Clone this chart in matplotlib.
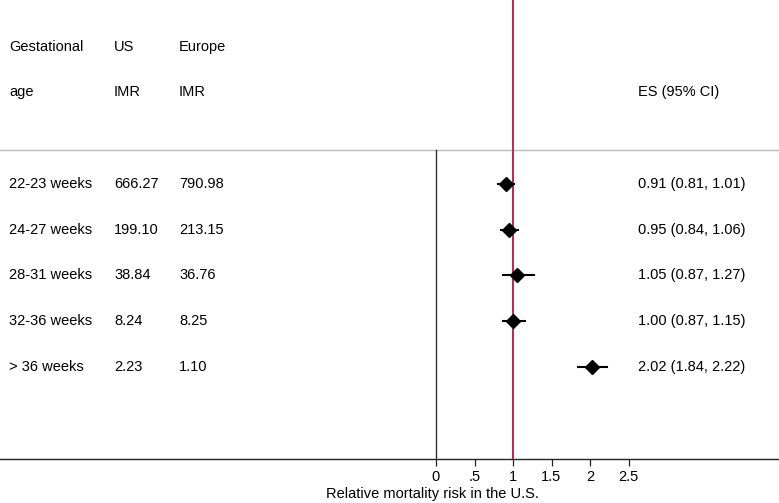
import matplotlib
matplotlib.use("Agg")
import matplotlib.pyplot as plt

groups = ["22-23 weeks", "24-27 weeks", "28-31 weeks", "32-36 weeks", "> 36 weeks"]
us_imr = ["666.27", "199.10", "38.84", "8.24", "2.23"]
eu_imr = ["790.98", "213.15", "36.76", "8.25", "1.10"]
es = [0.91, 0.95, 1.05, 1.00, 2.02]
lo = [0.81, 0.84, 0.87, 0.87, 1.84]
hi = [1.01, 1.06, 1.27, 1.15, 2.22]
xticks = [0, 0.5, 1, 1.5, 2, 2.5]
xticklabels = ["0", ".5", "1", "1.5", "2", "2.5"]

plt.rcParams['font.family'] = ['Liberation Sans', 'DejaVu Sans']
fs = 10.5

fig = plt.figure(figsize=(7.79, 5.03), dpi=100)
ax = fig.add_axes([0, 44/503, 1, 459/503])
W = 77.0
ax.set_xlim(-436/W, (779-436)/W)
ax.set_ylim(7.01, -3.02)

for s in ["top", "right", "left"]:
    ax.spines[s].set_visible(False)
ax.spines["bottom"].set_color("#222222")
ax.spines["bottom"].set_linewidth(1.0)
ax.set_yticks([])
ax.set_xticks(xticks)
ax.set_xticklabels(xticklabels, fontsize=fs)
ax.tick_params(axis='x', length=5, width=0.9, color="#222222", pad=3)

# reference lines
ax.axhline(0.25, color="#bbbbbb", lw=1.0, zorder=1)
ax.plot([0, 0], [0.25, 7.01], color="#333333", lw=1.0, zorder=2, clip_on=False)
ax.axvline(1, color="#b0305a", lw=1.5, zorder=3)

x_grp = (9-436)/W
x_us = (114-436)/W
x_eu = (179-436)/W
x_es = (638-436)/W

ax.text(x_grp, -2, "Gestational", fontsize=fs, va="center", ha="left")
ax.text(x_grp, -1, "age", fontsize=fs, va="center", ha="left")
ax.text(x_us, -2, "US", fontsize=fs, va="center", ha="left")
ax.text(x_us, -1, "IMR", fontsize=fs, va="center", ha="left")
ax.text(x_eu, -2, "Europe", fontsize=fs, va="center", ha="left")
ax.text(x_eu, -1, "IMR", fontsize=fs, va="center", ha="left")
ax.text(x_es, -1, "ES (95% CI)", fontsize=fs, va="center", ha="left")

for i in range(len(groups)):
    y = i + 1
    ax.text(x_grp, y, groups[i], fontsize=fs, va="center", ha="left")
    ax.text(x_us, y, us_imr[i], fontsize=fs, va="center", ha="left")
    ax.text(x_eu, y, eu_imr[i], fontsize=fs, va="center", ha="left")
    ax.text(x_es, y, f"{es[i]:.2f} ({lo[i]:.2f}, {hi[i]:.2f})", fontsize=fs, va="center", ha="left")
    ax.plot([lo[i], hi[i]], [y, y], color="black", lw=1.5, zorder=4)
    ax.plot([es[i]], [y], marker="D", ms=7.2, color="black", zorder=5)

ax.text((432-436)/W, -0.077, "Relative mortality risk in the U.S.", fontsize=fs,
        ha="center", va="center", transform=ax.get_xaxis_transform())

fig.savefig("out.png", dpi=100)
